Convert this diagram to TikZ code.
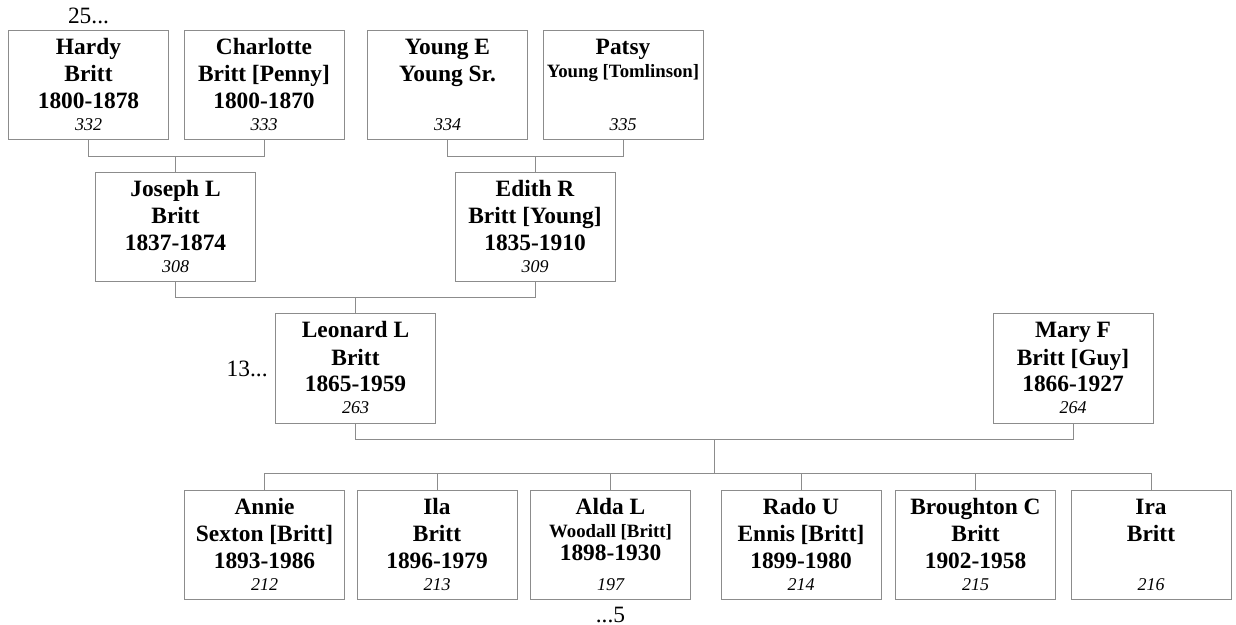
\documentclass[tikz,border=0pt]{standalone}
\usepackage{fontspec}
\setmainfont{Liberation Serif}
\usetikzlibrary{positioning,calc}

\definecolor{linegray}{gray}{0.55}
\newcommand{\namefont}{\fontsize{11.7}{13.5}\selectfont\bfseries}
\newcommand{\numfont}{\fontsize{9}{11}\selectfont\mdseries\itshape}
\newcommand{\smallname}[1]{\vspace{-2pt}{\fontsize{9.4}{11}\selectfont #1}\vspace{-2pt}}
\newcommand{\who}[4]{\parbox[t][54.5pt][t]{80pt}{\centering\namefont
  \rule{0pt}{12pt}#1\\#2\\#3\par\vfill\numfont #4\rule[-4.5pt]{0pt}{4.5pt}}}

\begin{document}
\begin{tikzpicture}[x=1pt,y=1pt,
                    person/.style={draw=linegray,line width=0.5pt,inner sep=0pt},
                    line/.style={draw=linegray,line width=0.5pt},
                    more/.style={inner sep=0pt,font=\fontsize{11.7}{13.5}\selectfont}]
  \useasboundingbox (0,0) rectangle (618,-312.5);

  % grandparents
  \node[person] (hardy) at (44.25,-42.75) {\who{Hardy}{Britt}{1800-1878}{332}};
  \node[person] (charlotte) [right=7.25pt of hardy] {\who{Charlotte}{Britt [Penny]}{1800-1870}{333}};
  \node[person] (younge) [right=11.25pt of charlotte] {\who{Young E}{Young Sr.}{}{334}};
  \node[person] (patsy) [right=7.25pt of younge] {\who{Patsy}{\smallname{Young [Tomlinson]}}{}{335}};

  % parents
  \node[person] (joseph) at (87.75,-113.75) {\who{Joseph L}{Britt}{1837-1874}{308}};
  \node[person] (edith) [right=99.25pt of joseph] {\who{Edith R}{Britt [Young]}{1835-1910}{309}};

  % couple
  \node[person] (leonard) at (177.75,-184.25) {\who{Leonard L}{Britt}{1865-1959}{263}};
  \node[person] (mary) [right=278.25pt of leonard] {\who{Mary F}{Britt [Guy]}{1866-1927}{264}};

  % children
  \node[person] (annie) at (132.25,-272.25) {\who{Annie}{Sexton [Britt]}{1893-1986}{212}};
  \node[person] (ila) [right=5.75pt of annie] {\who{Ila}{Britt}{1896-1979}{213}};
  \node[person] (alda) [right=6.25pt of ila] {\who{Alda L}{\smallname{Woodall [Britt]}}{1898-1930}{197}};
  \node[person] (rado) [right=14.75pt of alda] {\who{Rado U}{Ennis [Britt]}{1899-1980}{214}};
  \node[person] (broughton) [right=6.75pt of rado] {\who{Broughton C}{Britt}{1902-1958}{215}};
  \node[person] (ira) [right=7.25pt of broughton] {\who{Ira}{Britt}{}{216}};

  % continuation marks
  \node[more,anchor=south] (up25) [above=3pt of hardy] {25...};
  \node[more] (left13) [left=3.5pt of leonard] {13...};
  \node[more,anchor=north] (down5) [below=3.5pt of alda] {...5};

  % family lines
  \draw[line] (hardy.south) -- ++(0,-8) coordinate (b1) -| (charlotte.south);
  \draw[line] (joseph.north) -- (joseph.north |- b1);
  \draw[line] (younge.south) -- ++(0,-8) coordinate (b2) -| (patsy.south);
  \draw[line] (edith.north) -- (edith.north |- b2);
  \draw[line] (joseph.south) -- ++(0,-7.5) coordinate (b3) -| (edith.south);
  \draw[line] (leonard.north) -- (leonard.north |- b3);
  \draw[line] (leonard.south) -- ++(0,-8) coordinate (b4) -| (mary.south);
  \draw[line] (annie.north) -- ++(0,8) coordinate (kids) -| (ira.north);
  \coordinate (mid) at ($(b4)!0.5!(b4 -| mary.south)$);
  \draw[line] (mid) -- (mid |- kids);
  \foreach \k in {ila,alda,rado,broughton}
    \draw[line] (\k.north) -- (\k.north |- kids);

\end{tikzpicture}
\end{document}
